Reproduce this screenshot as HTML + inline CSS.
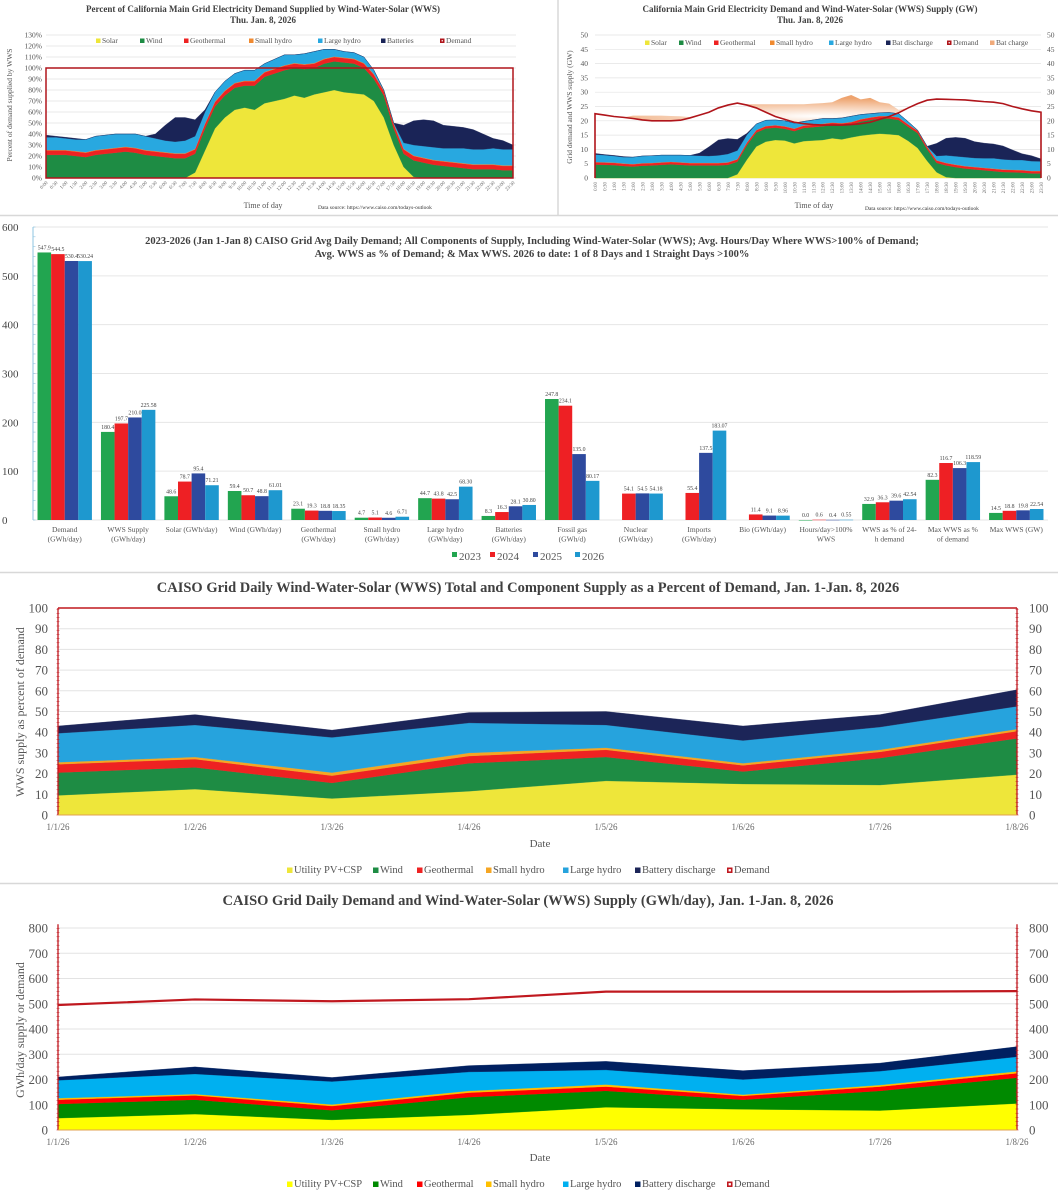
<!DOCTYPE html>
<html><head><meta charset="utf-8"><title>CAISO WWS charts</title>
<style>
html,body{margin:0;padding:0;background:#fff;}
svg{display:block;font-family:"Liberation Serif","DejaVu Serif",serif;}
.t{font-weight:bold;fill:#404040;}
</style></head>
<body>
<svg id="root" width="1058" height="1200" viewBox="0 0 1058 1200" xmlns="http://www.w3.org/2000/svg">
<rect x="0" y="0" width="1058" height="1200" fill="#fff"/>
<line x1="558" y1="0" x2="558" y2="215" stroke="#d8d8d8" stroke-width="1.5"/>
<line x1="0" y1="215.5" x2="1058" y2="215.5" stroke="#d8d8d8" stroke-width="1.5"/>
<line x1="0" y1="572.5" x2="1058" y2="572.5" stroke="#d8d8d8" stroke-width="1.5"/>
<line x1="0" y1="883.5" x2="1058" y2="883.5" stroke="#d8d8d8" stroke-width="1.5"/>

<g id="c1">
<text class="t" x="263" y="12" font-size="9" text-anchor="middle">Percent of California Main Grid Electricity Demand Supplied by Wind-Water-Solar (WWS)</text>
<text class="t" x="263" y="23" font-size="9" text-anchor="middle">Thu. Jan. 8,  2026</text>
<text x="12" y="105" font-size="7.5" fill="#555" text-anchor="middle" transform="rotate(-90 12 105)">Percent of demand supplied by WWS</text>
<text x="263" y="208" font-size="8" fill="#555" text-anchor="middle">Time of day</text>
<text x="318" y="209" font-size="5.5" fill="#333">Data source: https://www.caiso.com/todays-outlook</text>
</g>
<g id="c2">
<text class="t" x="810" y="12" font-size="9" text-anchor="middle">California Main Grid Electricity Demand and Wind-Water-Solar (WWS) Supply (GW)</text>
<text class="t" x="810" y="23" font-size="9" text-anchor="middle">Thu. Jan. 8, 2026</text>
<text x="572" y="107" font-size="7.5" fill="#555" text-anchor="middle" transform="rotate(-90 572 107)">Grid demand and WWS supply (GW)</text>
<text x="814" y="208" font-size="8" fill="#555" text-anchor="middle">Time of day</text>
<text x="865" y="210" font-size="5.5" fill="#333">Data source: https://www.caiso.com/todays-outlook</text>
</g>
<g id="c3">
<text class="t" x="532" y="244" font-size="10.5" text-anchor="middle" fill="#333">2023-2026 (Jan 1-Jan 8) CAISO Grid Avg Daily Demand; All Components of Supply, Including Wind-Water-Solar (WWS); Avg. Hours/Day Where WWS&gt;100% of Demand;</text>
<text class="t" x="532" y="257" font-size="10.5" text-anchor="middle" fill="#333">Avg. WWS as % of Demand; &amp; Max WWS. 2026 to date: 1 of 8 Days and 1 Straight Days &gt;100%</text>
</g>
<g id="c4">
<text class="t" x="528" y="592" font-size="14.5" text-anchor="middle" fill="#404040">CAISO Grid Daily Wind-Water-Solar (WWS) Total and Component Supply as a Percent of Demand, Jan. 1-Jan. 8, 2026</text>
<text x="24" y="712" font-size="12" fill="#555" text-anchor="middle" transform="rotate(-90 24 712)">WWS supply as percent of demand</text>
<text x="540" y="847" font-size="11" fill="#555" text-anchor="middle">Date</text>
</g>
<g id="c5">
<text class="t" x="528" y="905" font-size="14.5" text-anchor="middle" fill="#404040">CAISO Grid Daily Demand and Wind-Water-Solar (WWS) Supply (GWh/day), Jan. 1-Jan. 8,  2026</text>
<text x="24" y="1030" font-size="12" fill="#555" text-anchor="middle" transform="rotate(-90 24 1030)">GWh/day supply or demand</text>
<text x="540" y="1161" font-size="11" fill="#555" text-anchor="middle">Date</text>
</g>
</svg>
<script>
// ===== Chart 1: percent of demand, half-hourly =====
const c1Solar=[0,0,0,0,0,0,0,0,0,0,0,0,0,0,0,5,25,45,55,62,64,62,68,70,72,75,73,76,78,80,78,77,76,70,55,30,10,1,0,0,0,0,0,0,0,0,0,0];
const c1Wind=[21,21,21,20,19,21,22,23,24,23,21,20,19,18,18,17,20,20,20,20,20,22,24,25,26,25,26,24,26,26,27,27,24,20,20,15,12,15,14,12,11,10,9,8,8,8,7,7];
const c1Geo=[4,4,4,4,4,4,4,4,4,4,4,4,4,4,4,4,4,4,4,4,4,4,4,4,4,4,4,4,4,4,4,4,4,4,4,4,4,4,4,4,4,4,4,4,4,4,4,4];
const c1Small=[0.5,0.5,0.5,0.5,0.5,0.5,0.5,0.5,0.5,0.5,0.5,0.5,0.5,0.5,0.5,0.5,0.5,0.5,0.5,0.5,0.5,0.5,0.5,0.5,0.5,0.5,0.5,0.5,0.5,0.5,0.5,0.5,0.5,0.5,0.5,0.5,0.5,0.5,0.5,0.5,0.5,0.5,0.5,0.5,0.5,0.5,0.5,0.5];
const c1Large=[11.5,11.5,10.5,10.5,11.5,12.5,12.5,12.5,11.5,12.5,12.5,11.5,10.5,10.5,11.5,11.5,10.5,8.5,8.5,8.5,9.5,9.5,7.5,8.5,9.5,7.5,9.5,10.5,8.5,6.5,5.5,5.5,5.5,3.5,0.5,0.5,5.5,9.5,10.5,11.5,11.5,12.5,13.5,13.5,13.5,14.5,14.5,14.5];
const c1Batt=[2,1,1,1,0,0,0,0,0,0,0,4,14,22,21,15,2,0,0,0,0,0,0,0,0,0,0,0,0,0,0,0,0,0,0,0,16,22,24,24,21,20,19,18,14,9,8,4];
const c1Demand=100;
const c1Ticks=[0,10,20,30,40,50,60,70,80,90,100,110,120,130];
// ===== Chart 2: GW, half-hourly =====
const c2Solar=[0,0,0,0,0,0,0,0,0,0,0,0,0,0,0,1.3,6.4,11,12.7,13.3,13.1,12.1,12.9,13.1,13.3,13.9,13.5,14.2,14.8,15.2,15.5,15.3,15,13,10.5,6,2,0.3,0,0,0,0,0,0,0,0,0,0];
const c2Wind=[4.7,4.6,4.5,4.2,4,4.3,4.4,4.6,4.8,4.6,4.4,4.4,4.4,4.4,4.6,4.4,5.1,4.9,4.6,4.3,4.1,4.3,4.6,4.7,4.8,4.6,4.8,4.5,4.9,5.1,5.3,5.5,5.3,4.9,5.2,4.1,3.3,4.1,3.8,3.3,3,2.7,2.4,2.1,2,1.9,1.6,1.6];
const c2Geo=[0.8,0.8,0.8,0.8,0.8,0.8,0.8,0.8,0.8,0.8,0.8,0.8,0.8,0.8,0.8,0.8,0.8,0.8,0.8,0.8,0.8,0.8,0.8,0.8,0.8,0.8,0.8,0.8,0.8,0.8,0.8,0.8,0.8,0.8,0.8,0.8,0.8,0.8,0.8,0.8,0.8,0.8,0.8,0.8,0.8,0.8,0.8,0.8];
const c2Small=[0.1,0.1,0.1,0.1,0.1,0.1,0.1,0.1,0.1,0.1,0.1,0.1,0.1,0.1,0.1,0.1,0.1,0.1,0.1,0.1,0.1,0.1,0.1,0.1,0.1,0.1,0.1,0.1,0.1,0.1,0.1,0.1,0.1,0.1,0.1,0.1,0.1,0.1,0.1,0.1,0.1,0.1,0.1,0.1,0.1,0.1,0.1,0.1];
const c2Large=[2.6,2.5,2.3,2.2,2.4,2.5,2.5,2.5,2.3,2.5,2.6,2.5,2.4,2.6,2.9,3,2.7,2.1,2,1.8,1.9,1.9,1.4,1.6,1.8,1.4,1.8,2,1.6,1.3,1.1,1.2,1.3,0.9,0.1,0.1,1.5,2.6,2.9,3.1,3.1,3.3,3.6,3.5,3.4,3.5,3.4,3.3];
const c2Batt=[0.4,0.2,0.2,0.2,0,0,0,0,0,0,0,0.9,3.2,5.4,5.4,3.9,0.5,0,0,0,0,0,0,0,0,0,0,0,0,0,0,0,0,0,0,0,4.4,6,6.6,6.6,5.7,5.3,5,4.7,3.5,2.2,1.9,0.9];
const c2Demand=[22.5,22,21.5,21.2,20.8,20.3,20,20,20,20.2,21,22,23,24.5,25.5,26.2,25.5,24.5,23,21.5,20.5,19.5,19,18.7,18.5,18.5,18.5,18.7,19,19.5,20.5,21.5,22.8,24.5,26,27.2,27.6,27.5,27.4,27.3,27,26.7,26.5,26,25,24.2,23.5,23];
const c2Charge=[0,0,0,0,1,1.5,1.8,1.8,1.7,1.4,0.3,0,0,0,0,0,0.3,1.3,2.8,4.3,5.3,6.3,6.8,7.3,7.7,8,9.5,10.3,8.5,8.5,6,4.5,1,0,0,0,0,0,0,0,0,0,0,0,0,0,0,0];
const c2Ticks=[0,5,10,15,20,25,30,35,40,45,50];
// ===== Chart 3: bars =====
const barCats=[["Demand","(GWh/day)"],["WWS Supply","(GWh/day)"],["Solar (GWh/day)"],["Wind (GWh/day)"],["Geothermal","(GWh/day)"],["Small hydro","(GWh/day)"],["Large hydro","(GWh/day)"],["Batteries","(GWh/day)"],["Fossil gas","(GWh/d)"],["Nuclear","(GWh/day)"],["Imports","(GWh/day)"],["Bio (GWh/day)"],["Hours/day>100%","WWS"],["WWS as % of 24-","h demand"],["Max WWS as %","of demand"],["Max WWS (GW)"]];
const bar2023=[547.9,180.4,48.6,59.4,23.1,4.7,44.7,8.3,247.8,null,null,null,0.0,32.9,82.3,14.5];
const bar2024=[544.5,197.7,78.7,50.7,19.3,5.1,43.8,16.3,234.1,54.1,55.4,11.4,0.6,36.3,116.7,18.8];
const bar2025=[530.4,210.0,95.4,48.8,18.8,4.6,42.5,28.1,135.0,54.5,137.5,9.1,0.4,39.6,106.3,19.8];
const bar2026=[530.24,225.58,71.21,61.01,18.35,6.71,68.30,30.80,80.17,54.18,183.07,8.96,0.55,42.54,118.59,22.54];
const barYears=["2023","2024","2025","2026"];
const barTicks=[0,100,200,300,400,500,600];
// ===== Chart 4: daily percent =====
const dayLabels=["1/1/26","1/2/26","1/3/26","1/4/26","1/5/26","1/6/26","1/7/26","1/8/26"];
const pSolar=[9.5,12.5,8,11.5,16.5,15,14.5,19.5];
const pWind=[11,10.5,7.5,13.5,11.5,6,13,17.5];
const pGeo=[4,4,3.5,3.5,3.5,3,3,3.5];
const pSmall=[1,1,1.5,1.5,1,1,1,1];
const pLarge=[14,15.5,17,14.5,11,11,11,11];
const pBatt=[3.5,5,3.5,5,6.5,7,6,8];
const pDemand=100;
const pTicks=[0,10,20,30,40,50,60,70,80,90,100];
// ===== Chart 5: daily GWh =====
const gSolar=[47,63,40,60,90,82,77,105];
const gWind=[56,57,38,70,65,38,78,102];
const gGeo=[17,17,17,18,17,15,17,18];
const gSmall=[6,5,6,7,8,5,6,7];
const gLarge=[71,80,91,75,58,60,55,58];
const gBatt=[13,28,16,25,34,35,32,40];
const gDemand=[495,517,510,518,548,548,548,550];
const gTicks=[0,100,200,300,400,500,600,700,800];
const halfHours=[];for(let h=0;h<24;h++){halfHours.push(h+":00");halfHours.push(h+":30");}

const NS='http://www.w3.org/2000/svg';
function mk(t,a,p){const e=document.createElementNS(NS,t);for(const k in a)e.setAttribute(k,a[k]);p.appendChild(e);return e;}
function txt(p,x,y,s,size,anchor,fill){const e=mk('text',{x:x,y:y,'font-size':size,'text-anchor':anchor||'start',fill:fill||'#555'},p);e.textContent=s;return e;}
function stack(g,comps,colors,names,xf,yf){
  const n=comps[0].length;let base=new Array(n).fill(0);
  comps.forEach((c,k)=>{
    const top=base.map((b,i)=>b+c[i]);
    let d='M'+xf(0)+','+yf(top[0]);
    for(let i=1;i<n;i++)d+='L'+xf(i)+','+yf(top[i]);
    for(let i=n-1;i>=0;i--)d+='L'+xf(i)+','+yf(base[i]);
    const p=mk('path',{d:d+'Z',fill:colors[k],stroke:colors[k],'stroke-width':0.3},g);
    
    
    base=top;
  });
  return base;
}
function legend(g,items,y,size,sq){
  items.forEach(it=>{
    let s;
    if(it[3]){s=mk('rect',{x:it[0]+0.8,y:y-sq+0.8,width:sq-1.6,height:sq-1.6,fill:'#fff',stroke:it[2],'stroke-width':1.6},g);}
    else{s=mk('rect',{x:it[0],y:y-sq,width:sq,height:sq,fill:it[2]},g);}
    
    
    const t=txt(g,it[0]+sq+1.5,y,it[1],size,'start','#555');
    
    
  });
}

// ---------- Chart 1 ----------
(function(){
  const g=document.getElementById('c1');
  const x0=46,x1=513,y0=178,k=1.1;
  const xf=i=>x0+i*(x1-x0)/47, yf=v=>y0-v*k;
  c1Ticks.forEach(v=>{
    const l=mk('line',{x1:x0,x2:x1+3,y1:yf(v),y2:yf(v),stroke:'#e3e3e3','stroke-width':0.7},g);
    
    
    const t=txt(g,42,yf(v)+2.5,v+'%',7.5,'end','#555');
    
    
  });
  stack(g,[c1Solar,c1Wind,c1Geo,c1Small,c1Large,c1Batt],['#eee63a','#1e8c44','#ee2222','#f08a30','#28a8e0','#1a2457'],['solar-area','wind-area','geothermal-area','small-hydro-area','large-hydro-area','batteries-area'],xf,yf);
  const dm=mk('rect',{x:x0,y:yf(c1Demand),width:x1-x0,height:yf(0)-yf(c1Demand),fill:'none',stroke:'#b0151b','stroke-width':1.5},g);
  
  
  halfHours.forEach((s,i)=>{
    const t=mk('text',{x:xf(i)+2,y:y0+5,'font-size':5,'text-anchor':'end',fill:'#666',transform:'rotate(-45 '+(xf(i)+2)+' '+(y0+5)+')'},g);
    t.textContent=s;
    
    
  });
  legend(g,[[96,'Solar','#eee63a'],[140,'Wind','#1e8c44'],[184,'Geothermal','#ee2222'],[249,'Small hydro','#f08a30'],[318,'Large hydro','#28a8e0'],[381,'Batteries','#1a2457'],[440,'Demand','#b0151b',1]],43,7.5,4.5);
})();

// ---------- Chart 2 ----------
(function(){
  const g=document.getElementById('c2');
  const x0=595,x1=1041,y0=178,k=2.86;
  const xf=i=>x0+i*(x1-x0)/47, yf=v=>y0-v*k;
  c2Ticks.forEach(v=>{
    const l=mk('line',{x1:x0,x2:x1,y1:yf(v),y2:yf(v),stroke:'#e3e3e3','stroke-width':0.7},g);
    
    
    const t=txt(g,588,yf(v)+2.5,String(v),7.5,'end','#555');
    
    
    const t2=txt(g,1047,yf(v)+2.5,String(v),7.5,'start','#555');
    
    
  });
  const defs=mk('defs',{},g);
  const grad=mk('radialGradient',{id:'chg',cx:'0.5',cy:'0.7',r:'0.6'},defs);
  mk('stop',{offset:'0','stop-color':'#ffffff'},grad);
  mk('stop',{offset:'1','stop-color':'#eea36e'},grad);
  // bat charge stacked above demand
  let d='M'+xf(0)+','+yf(c2Demand[0]+c2Charge[0]);
  for(let i=1;i<48;i++)d+='L'+xf(i)+','+yf(c2Demand[i]+c2Charge[i]);
  for(let i=47;i>=0;i--)d+='L'+xf(i)+','+yf(c2Demand[i]);
  const ch=mk('path',{d:d+'Z',fill:'url(#chg)'},g);
  
  
  stack(g,[c2Solar,c2Wind,c2Geo,c2Small,c2Large,c2Batt],['#eee63a','#1e8c44','#ee2222','#f08a30','#28a8e0','#1a2457'],['solar-area','wind-area','geothermal-area','small-hydro-area','large-hydro-area','bat-discharge-area'],xf,yf);
  let dd='M'+xf(0)+','+yf(0)+'L'+xf(0)+','+yf(c2Demand[0]);
  for(let i=1;i<48;i++)dd+='L'+xf(i)+','+yf(c2Demand[i]);
  dd+='L'+xf(47)+','+yf(0);
  const dl=mk('path',{d:dd,fill:'none',stroke:'#b0151b','stroke-width':1.6},g);
  
  
  halfHours.forEach((s,i)=>{
    const t=mk('text',{x:xf(i)+2,y:y0+4,'font-size':5,'text-anchor':'end',fill:'#666',transform:'rotate(-90 '+(xf(i)+2)+' '+(y0+4)+')'},g);
    t.textContent=s;
    
    
  });
  legend(g,[[645,'Solar','#eee63a'],[679,'Wind','#1e8c44'],[714,'Geothermal','#ee2222'],[770,'Small hydro','#f08a30'],[829,'Large hydro','#28a8e0'],[886,'Bat discharge','#1a2457'],[947,'Demand','#b0151b',1],[990,'Bat charge','#f0aa7a']],45,7.5,4.5);
})();

// ---------- Chart 3 (bars) ----------
(function(){
  const g=document.getElementById('c3');
  const x0=33,x1=1048,y0=520,k=0.4883;
  const cw=(x1-x0)/barCats.length, bw=13.6;
  const yf=v=>y0-v*k;
  barTicks.forEach(v=>{
    const l=mk('line',{x1:x0,x2:x1,y1:yf(v),y2:yf(v),stroke:'#e6e6e6','stroke-width':1},g);
    
    
    const t=txt(g,2,yf(v)+4,String(v),11,'start','#444');
    
    
  });
  const ax=mk('line',{x1:x0,x2:x0,y1:yf(600),y2:y0,stroke:'#8fc4e0','stroke-width':1},g);
  
  
  for(let v=0;v<=600;v+=20){mk('line',{x1:x0,x2:x0+2.5,y1:yf(v),y2:yf(v),stroke:'#8fc4e0','stroke-width':0.6},g);}
  const series=[bar2023,bar2024,bar2025,bar2026];
  const cols=['#22a550','#ee2024','#2e4a9e','#1e98cf'];
  barCats.forEach((c,ci)=>{
    const cx=x0+cw*(ci+0.5);
    series.forEach((s,si)=>{
      const v=s[ci];
      if(v===null)return;
      const bx=cx-2*bw+si*bw;
      const r=mk('rect',{x:bx,y:yf(v),width:bw,height:Math.max(0.5,v*k),fill:cols[si]},g);
      
      
      const lab=si===3?v.toFixed(2):v.toFixed(1);
      const t=txt(g,bx+bw/2,yf(v)-3,lab,5.8,'middle','#444');
      
      
    });
    c.forEach((line,li)=>{
      const t=txt(g,cx,532+li*9.5,line,7.5,'middle','#555');
      
      
    });
  });
  const lx=[452,490,533,575];
  barYears.forEach((y,i)=>{
    const s=mk('rect',{x:lx[i],y:552,width:5,height:5,fill:cols[i]},g);
    
    
    const t=txt(g,lx[i]+7,560,y,11,'start','#555');
    
    
  });
})();

// ---------- Daily charts ----------
function daily(id,comps,colors,yMaxVal,ticks,y0,k,demandFn,legY,gridCol){
  const g=document.getElementById(id);
  const x0=58,x1=1017;
  const xf=i=>x0+i*(x1-x0)/7, yf=v=>y0-v*k;
  ticks.forEach(v=>{
    const l=mk('line',{x1:x0,x2:x1,y1:yf(v),y2:yf(v),stroke:gridCol,'stroke-width':1},g);
    
    
    const t=txt(g,48,yf(v)+4.5,String(v),13,'end','#555');
    
    
    const t2=txt(g,1029,yf(v)+4.5,String(v),13,'start','#555');
    
    
  });
  stack(g,comps,colors,['utility-pv-area','wind-area','geothermal-area','small-hydro-area','large-hydro-area','battery-discharge-area'],xf,yf);
  const yTop=yf(yMaxVal);
  [x0,x1].forEach(xx=>{
    const a=mk('line',{x1:xx,x2:xx,y1:yTop,y2:y0,stroke:'#c0181f','stroke-width':1.3},g);
    
    
    for(let yy=y0;yy>=yTop;yy-=4.2){mk('line',{x1:xx-1.5,x2:xx+1.5,y1:yy,y2:yy,stroke:'#c0181f','stroke-width':0.5},g);}
  });
  const ba=mk('line',{x1:x0,x2:x1,y1:y0,y2:y0,stroke:'#e0a050','stroke-width':1},g);
  
  
  demandFn(g,xf,yf);
  dayLabels.forEach((s,i)=>{
    const t=txt(g,xf(i),y0+15,s,9,'middle','#666');
    
    
  });
  legend(g,[[287,'Utility PV+CSP',colors[0]],[373,'Wind',colors[1]],[417,'Geothermal',colors[2]],[486,'Small hydro',colors[3]],[563,'Large hydro',colors[4]],[635,'Battery discharge',colors[5]],[727,'Demand','#c0181f',1]],legY,10.5,5.5);
}
daily('c4',[pSolar,pWind,pGeo,pSmall,pLarge,pBatt],['#eee63a','#1e8c44','#ee2222','#f5a623','#26a3dd','#1c2558'],100,pTicks,815,2.07,function(g,xf,yf){
  const l=mk('line',{x1:xf(0),x2:xf(7),y1:yf(pDemand),y2:yf(pDemand),stroke:'#c0181f','stroke-width':1.5},g);
  
  
},873,'#e3e3e3');
daily('c5',[gSolar,gWind,gGeo,gSmall,gLarge,gBatt],['#ffff00','#008a00','#ff0000','#ffc000','#00b0f0','#002060'],815,gTicks,1130,0.2525,function(g,xf,yf){
  let d='M'+xf(0)+','+yf(gDemand[0]);
  for(let i=1;i<8;i++)d+='L'+xf(i)+','+yf(gDemand[i]);
  const p=mk('path',{d:d,fill:'none',stroke:'#c0181f','stroke-width':2.2},g);
  
  
},1187,'#e3e3e3');
</script>
</body></html>
